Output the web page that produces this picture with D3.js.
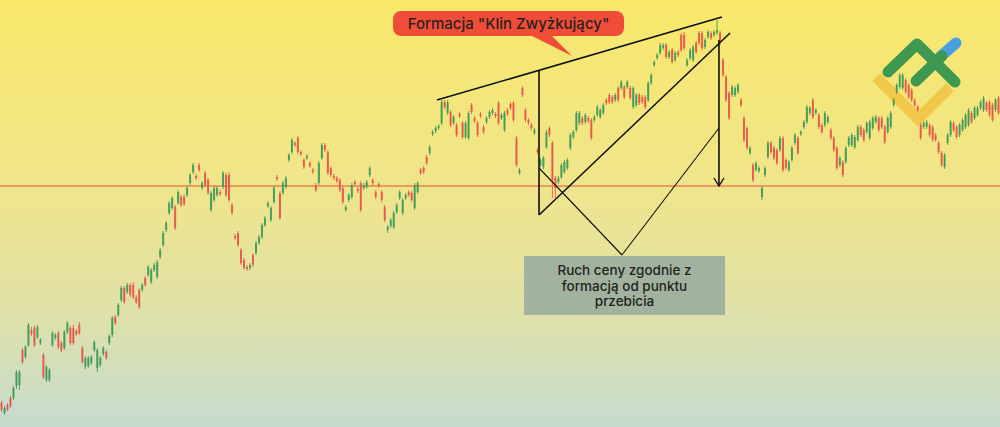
<!DOCTYPE html>
<html><head><meta charset="utf-8">
<script src="https://cdn.jsdelivr.net/npm/d3@7"></script>
<style>html,body{margin:0;padding:0;overflow:hidden;background:#fff}svg{display:block}</style>
</head><body><svg id="c" width="1000" height="427"></svg>
<script>
// candles: [open, high, low, close]
const candles = [
[97,99,88,90],[87,94,85,92],[95,97,89,90],[102,104,92,94],[102,114,100,112],[114,130,111,128],[115,130,110,128],[150,152,136,138],[143,155,141,153],[155,177,153,175],
[170,173,164,166],[172,174,153,155],[163,175,161,173],[157,162,155,160],[145,147,121,123],[120,135,118,133],[120,132,118,130],[155,169,153,167],[162,167,160,165],[167,169,151,153],
[157,159,148,150],[152,170,150,168],[168,179,166,177],[172,174,155,157],[172,175,155,157],[169,171,164,166],[175,178,165,167],[152,154,136,138],[133,144,131,142],[134,144,132,142],
[137,145,135,143],[150,160,148,158],[132,152,128,150],[135,144,133,142],[146,154,144,152],[148,150,140,142],[157,166,155,164],[165,184,163,182],[183,185,175,177],[185,197,183,195],
[200,214,198,212],[212,214,196,198],[208,217,206,215],[215,217,203,205],[215,218,201,203],[203,205,196,198],[210,212,191,193],[210,217,208,215],[222,224,213,215],[225,235,223,233],
[218,232,216,230],[230,237,228,235],[223,240,221,238],[243,252,241,250],[255,269,253,267],[270,279,268,277],[287,299,285,297],[292,304,290,302],[293,295,270,272],[297,310,295,308],
[303,305,293,295],[303,306,294,296],[305,314,303,312],[317,327,315,325],[328,337,326,335],[324,326,320,322],[335,337,328,330],[312,319,310,317],[327,329,313,315],[320,322,305,307],
[290,309,288,307],[300,314,298,312],[305,314,303,312],[308,310,304,306],[313,329,311,327],[325,327,303,305],[325,328,298,300],[295,297,285,287],[264,266,260,262],[267,269,253,255],
[250,252,235,237],[240,242,230,232],[233,235,229,231],[232,237,230,235],[245,247,233,235],[247,259,245,257],[257,265,255,263],[263,277,261,275],[275,284,273,282],[294,299,292,297],
[280,294,278,292],[298,314,296,312],[323,325,319,321],[307,309,280,282],[307,319,305,317],[313,324,311,322],[340,347,338,345],[348,362,346,360],[357,359,353,355],[362,364,346,348],
[348,350,344,346],[340,342,331,333],[342,346,340,344],[337,339,332,334],[330,332,326,328],[315,317,308,310],[317,339,315,337],[342,357,340,355],[355,357,348,350],[348,350,325,327],
[332,334,323,325],[324,326,320,322],[322,324,317,319],[320,322,308,310],[312,314,296,298],[290,295,288,293],[300,307,298,305],[303,317,301,315],[318,320,314,316],[311,313,307,309],
[317,319,288,290],[312,317,310,315],[313,320,311,318],[325,334,323,332],[320,322,315,317],[308,310,301,303],[316,318,312,314],[308,310,298,300],[293,295,278,280],[270,275,267,273],
[274,282,272,280],[273,289,271,287],[288,297,286,295],[302,310,300,308],[287,302,285,300],[302,307,300,305],[308,310,303,305],[307,309,298,300],[292,317,290,315],[308,319,306,317],
[330,332,325,327],[332,334,326,328],[343,345,335,337],[347,355,345,353],[366,370,364,368],[369,374,367,372],[372,376,370,374],[377,400,375,398],[398,400,391,393],[387,400,385,398],
[388,390,373,375],[377,385,375,383],[375,377,363,365],[386,388,382,384],[377,379,361,363],[363,379,361,377],[362,389,360,387],[395,397,386,388],[382,384,377,379],[377,379,363,365],
[386,388,382,384],[373,375,366,368],[378,384,376,382],[383,390,381,388],[387,392,385,390],[386,388,382,384],[397,399,375,377],[382,387,380,385],[370,389,368,387],[390,392,384,386],
[396,398,390,392],[397,399,378,380],[362,364,333,335],[327,332,325,330],[412,414,403,405],[390,392,378,380],[380,382,375,377],[375,377,370,372],[367,372,365,370],[350,352,346,348],
[335,342,333,340],[333,344,331,342],[353,370,351,368],[372,374,363,365],[357,359,302,320],[322,324,302,312],[318,324,316,322],[323,337,321,335],[328,340,326,338],[332,342,330,340],
[352,367,350,365],[363,370,361,368],[370,389,368,387],[377,389,375,387],[382,384,375,377],[378,387,376,385],[382,384,377,379],[380,382,360,362],[380,385,378,383],[385,395,383,393],
[383,392,381,390],[387,397,385,395],[400,402,395,397],[405,407,396,398],[403,405,396,398],[400,407,398,405],[412,414,398,400],[412,420,410,418],[413,415,401,403],[413,420,411,418],
[412,414,400,402],[393,414,391,412],[395,407,393,405],[405,407,395,397],[403,405,396,398],[403,405,391,393],[400,419,398,417],[417,427,415,425],[435,440,433,438],[442,447,440,445],
[447,457,445,455],[452,457,450,455],[455,457,441,443],[443,450,441,448],[450,452,436,438],[440,449,438,447],[448,450,443,445],[465,467,448,450],[465,468,450,452],[435,442,433,440],
[442,452,440,450],[440,455,438,453],[457,459,446,448],[467,469,455,457],[467,469,450,452],[453,462,451,460],[463,470,461,468],[467,469,460,462],[465,470,463,468],[467,480,465,470],
[467,469,455,457],[440,442,423,425],[423,425,398,400],[407,409,380,382],[405,415,403,413],[405,414,403,412],[408,417,406,415],[400,402,393,395],[382,384,358,360],[372,374,350,352],
[347,354,345,352],[335,337,318,320],[330,339,328,337],[329,334,327,332],[303,314,300,312],[325,334,323,332],[343,359,341,357],[357,359,346,348],[352,354,340,342],[350,352,335,337],
[350,364,348,362],[362,364,328,330],[340,342,330,332],[330,340,328,338],[340,354,338,352],[357,367,355,365],[362,364,345,347],[366,370,364,368],[373,380,371,378],[378,395,376,393],
[387,394,385,392],[400,402,381,383],[387,392,385,390],[385,387,371,373],[375,377,366,368],[375,389,373,387],[378,385,376,383],[370,372,360,362],[362,364,348,350],[352,354,330,332],
[335,344,333,342],[338,340,323,325],[338,354,336,352],[355,364,353,362],[355,367,353,365],[353,365,351,363],[360,375,358,373],[373,375,363,365],[370,372,358,360],[368,379,366,377],
[362,380,360,378],[372,384,370,382],[378,385,376,383],[382,384,368,370],[382,384,371,373],[373,375,356,358],[368,384,366,382],[373,389,371,387],[395,402,393,400],[408,417,406,415],
[413,427,411,425],[412,427,410,425],[420,422,406,408],[415,417,401,403],[410,412,398,400],[400,402,393,395],[393,395,388,390],[375,377,360,362],[373,379,371,377],[373,380,371,378],
[375,377,363,365],[373,375,358,360],[365,367,358,360],[357,359,346,348],[347,349,333,335],[333,347,331,345],[357,367,355,365],[365,380,363,378],[377,379,368,370],[373,375,361,363],
[365,377,363,375],[370,382,368,380],[373,387,371,385],[375,392,373,390],[387,389,376,378],[382,394,380,392],[385,394,383,392],[392,400,390,398],[390,404,388,402],[397,399,388,390],
[398,400,383,385],[395,397,378,380],[390,402,388,400],[402,404,385,387]
];
const priceDomain = [73, 500];
const breakoutLevel = 314;
// annotation anchors in [candle index, price]
const wedgeUpper = [[145.6,400],[240.8,483]];
const wedgeLower = [[179.7,285],[243.5,467]];
const heightLine = [[179.7,430],[179.7,285]];
const vLeft = [[179.7,332],[207.4,245]];
const vRight = [[207.4,245],[239.8,372]];
const targetArrow = [[239.8,460],[239.8,314]];
const titleText = 'Formacja "Klin Zwyżkujący"';
const noteLines = ["Ruch ceny zgodnie z","formacją od punktu","przebicia"];

const W=1000,H=427;
const svg=d3.select("#c");
const x=d3.scaleLinear().domain([0,candles.length-1]).range([1,998]);
const y=d3.scaleLinear().domain(priceDomain).range([H,0]);

const defs=svg.append("defs");
const g=defs.append("linearGradient").attr("id","bg").attr("x1",0).attr("y1",0).attr("x2",0).attr("y2",1);
[[0,"#f8e86a"],[0.42,"#f0e58a"],[0.72,"#e0e1a6"],[1,"#c6dbd0"]].forEach(s=>g.append("stop").attr("offset",s[0]).attr("stop-color",s[1]));
svg.append("rect").attr("width",W).attr("height",H).attr("fill","url(#bg)");

// breakout level line
svg.append("line").attr("x1",0).attr("x2",W).attr("y1",y(breakoutLevel)).attr("y2",y(breakoutLevel))
  .attr("stroke","#e0552f").attr("stroke-width",1);

// logo
const logo=svg.append("g").attr("fill","none").attr("stroke-linecap","round").attr("stroke-linejoin","round").attr("stroke-width",11);
logo.append("path").attr("d","M880,81 L918,119 L946,91").attr("stroke","#f2c84b").attr("stroke-linecap","square").attr("stroke-linejoin","miter");
logo.append("path").attr("d","M940,57 L956,43").attr("stroke","#4a9fe3");
logo.append("path").attr("d","M888,72 L917,44 L955,82").attr("stroke","#3f9850");
logo.append("path").attr("d","M916,81 L942,56").attr("stroke","#3f9850");

// candles
const up="#3f9a5a", dn="#e5574b";
const cg=svg.append("g");
cg.selectAll("line").data(candles).join("line")
  .attr("x1",(d,i)=>x(i)+0.5).attr("x2",(d,i)=>x(i)+0.5)
  .attr("y1",d=>y(d[1])).attr("y2",d=>y(d[2]))
  .attr("stroke",d=>d[3]>=d[0]?up:dn).attr("stroke-width",1).attr("opacity",0.85);
cg.selectAll("rect").data(candles).join("rect")
  .attr("x",(d,i)=>x(i)-0.5).attr("width",2)
  .attr("y",d=>y(Math.max(d[0],d[3])))
  .attr("height",d=>Math.max(1,Math.abs(y(d[0])-y(d[3]))))
  .attr("fill",d=>d[3]>=d[0]?up:dn).attr("opacity",0.9);

// annotation lines
const line=d3.line().x(d=>x(d[0])).y(d=>y(d[1]));
const ag=svg.append("g").attr("fill","none").attr("stroke","#111");
ag.append("path").attr("d",line(wedgeUpper)).attr("stroke-width",1.6);
ag.append("path").attr("d",line(wedgeLower)).attr("stroke-width",1.6);
ag.append("path").attr("d",line(heightLine)).attr("stroke-width",1.6);
ag.append("path").attr("d",line(vLeft)).attr("stroke-width",1.1);
ag.append("path").attr("d",line(vRight)).attr("stroke-width",1.1);
ag.append("path").attr("d",line(targetArrow)).attr("stroke-width",1.6);
const ax=x(targetArrow[1][0]), ay=y(targetArrow[1][1]);
ag.append("path").attr("d",`M${ax-5},${ay-8} L${ax},${ay} L${ax+5},${ay-8}`).attr("stroke-width",1.4);

// title callout
const tc=svg.append("g");
tc.append("path").attr("d","M528,34 L550,34 L572,56 Z").attr("fill","#f04d38");
tc.append("rect").attr("x",393).attr("y",11).attr("width",231).attr("height",25).attr("rx",8).attr("fill","#f04d38");
tc.append("text").attr("x",508.5).attr("y",29).attr("text-anchor","middle")
  .attr("font-family","Inter, 'Open Sans', sans-serif").attr("font-weight",500).attr("font-size",15)
  .attr("fill","#2a2220").text(titleText);

// note box
const nb=svg.append("g");
nb.append("rect").attr("x",524).attr("y",256).attr("width",201).attr("height",59).attr("fill","#a2b29f");
nb.selectAll("text").data(noteLines).join("text")
  .attr("x",624.5).attr("y",(d,i)=>275+i*15.5).attr("text-anchor","middle")
  .attr("font-family","Inter, 'Open Sans', sans-serif").attr("font-weight",500).attr("font-size",13.5)
  .attr("fill","#1f2420").text(d=>d);
</script></body></html>
